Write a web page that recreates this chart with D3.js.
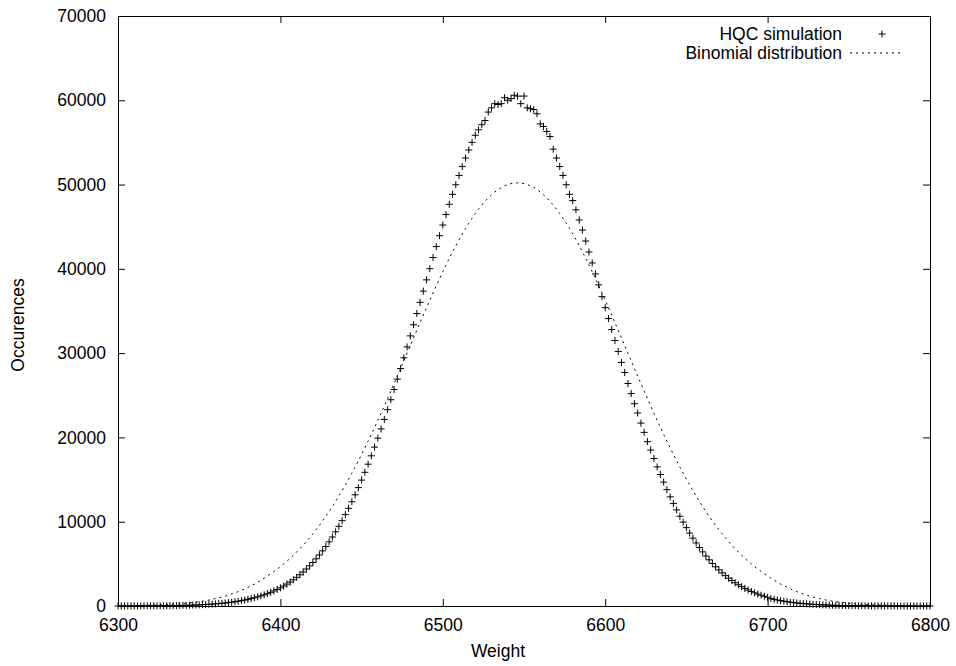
<!DOCTYPE html>
<html>
<head>
  <meta charset="utf-8">
  <script src="https://d3js.org/d3.v7.min.js"></script>
  <style>
    body { margin: 0; background: #fff; }
    text { font-family: "Liberation Sans", Arial, sans-serif; font-size: 17.5px; fill: #000; }
  </style>
</head>
<body>
  <svg id="chart" width="956" height="666"></svg>
  <script>
    // weights (x)
    const weights = [
      6300,6302,6304,6306,6308,6310,6312,6314,6316,6318,6320,6322,6324,6326,6328,6330,6332,6334,6336,6338,
      6340,6342,6344,6346,6348,6350,6352,6354,6356,6358,6360,6362,6364,6366,6368,6370,6372,6374,6376,6378,
      6380,6382,6384,6386,6388,6390,6392,6394,6396,6398,6400,6402,6404,6406,6408,6410,6412,6414,6416,6418,
      6420,6422,6424,6426,6428,6430,6432,6434,6436,6438,6440,6442,6444,6446,6448,6450,6452,6454,6456,6458,
      6460,6462,6464,6466,6468,6470,6472,6474,6476,6478,6480,6482,6484,6486,6488,6490,6492,6494,6496,6498,
      6500,6502,6504,6506,6508,6510,6512,6514,6516,6518,6520,6522,6524,6526,6528,6530,6532,6534,6536,6538,
      6540,6542,6544,6546,6548,6550,6552,6554,6556,6558,6560,6562,6564,6566,6568,6570,6572,6574,6576,6578,
      6580,6582,6584,6586,6588,6590,6592,6594,6596,6598,6600,6602,6604,6606,6608,6610,6612,6614,6616,6618,
      6620,6622,6624,6626,6628,6630,6632,6634,6636,6638,6640,6642,6644,6646,6648,6650,6652,6654,6656,6658,
      6660,6662,6664,6666,6668,6670,6672,6674,6676,6678,6680,6682,6684,6686,6688,6690,6692,6694,6696,6698,
      6700,6702,6704,6706,6708,6710,6712,6714,6716,6718,6720,6722,6724,6726,6728,6730,6732,6734,6736,6738,
      6740,6742,6744,6746,6748,6750,6752,6754,6756,6758,6760,6762,6764,6766,6768,6770,6772,6774,6776,6778,
      6780,6782,6784,6786,6788,6790,6792,6794,6796,6798,6800
    ];

    // HQC simulation (points)
    const hqcCounts = [
      4,4,5,6,7,8,10,11,13,15,18,20,23,27,31,36,41,47,54,62,
      71,81,92,105,120,136,155,175,198,224,253,285,321,361,405,455,509,569,636,709,
      790,879,976,1083,1200,1328,1467,1619,1785,1964,2159,2370,2598,2845,3111,3396,3703,4032,4385,4763,
      5166,5596,6055,6542,7060,7609,8188,8804,9450,10129,10843,11591,12374,13192,14047,14937,15863,16824,17820,18850,
      19912,21008,22134,23290,24473,25682,26918,28174,29450,30743,32050,33370,34697,36030,37364,38696,40023,41340,42645,43932,
      45200,46443,47656,48837,49980,51082,52140,53148,54105,55006,55849,56500,57100,57600,58600,59100,59600,59500,59600,60300,
      60000,60200,60600,60500,59600,60500,59100,59000,58900,58400,57200,56900,56300,55700,54200,53148,52140,51082,49980,48837,
      48100,47000,45800,44600,43300,42000,40700,39400,38100,36700,35400,34100,32800,31500,30200,28900,27700,26400,25200,24000,
      22900,21700,20600,19500,18500,17500,16500,15600,14700,13800,12950,12150,11400,10650,9950,9300,8650,8050,7480,6930,
      6420,5930,5480,5050,4650,4280,3930,3600,3300,3020,2760,2520,2300,2090,1900,1725,1565,1415,1280,1155,
      1040,879,790,709,636,569,509,455,405,361,321,285,253,224,198,175,155,136,120,105,
      92,81,71,62,54,47,41,36,31,27,23,20,18,15,13,11,10,8,7,6,
      5,4,4,3,3,2,2,2,1,1,1
    ];

    // Binomial distribution (dotted line)
    const binomialCounts = [
      24,27,30,34,41,46,52,59,67,80,90,101,113,126,149,166,185,206,229,270,
      300,334,370,409,470,520,575,635,704,805,885,970,1060,1157,1310,1430,1560,1700,1850,2040,
      2215,2400,2600,2813,3075,3310,3560,3820,4096,4377,4673,4985,5313,5658,6019,6398,6794,7208,7642,8094,
      8565,9055,9565,10095,10645,11214,11804,12413,13043,13692,14360,15048,15754,16479,17222,17983,18761,19556,20365,21189,
      22026,22876,23738,24611,25492,26382,27278,28180,29085,29993,30902,31809,32715,33616,34513,35401,36279,37146,37999,38838,
      39660,40463,41246,42006,42743,43453,44136,44790,45413,46003,46559,47081,47565,48012,48421,48789,49116,49401,49644,49843,
      49999,50111,50178,50200,50178,50111,49999,49843,49644,49401,49116,48789,48421,48012,47565,47081,46559,46003,45413,44790,
      44136,43453,42743,42006,41246,40463,39660,38838,37999,37146,36279,35401,34513,33616,32715,31809,30902,29993,29085,28180,
      27278,26382,25492,24611,23738,22876,22026,21189,20365,19556,18761,17983,17222,16479,15754,15048,14360,13692,13043,12413,
      11804,11214,10645,10095,9565,9055,8565,8094,7642,7208,6794,6398,6019,5658,5313,4985,4673,4377,4096,3820,
      3560,3310,3075,2813,2600,2400,2215,2040,1850,1700,1560,1430,1310,1157,1060,970,885,805,704,635,
      575,520,470,409,370,334,300,270,229,206,185,166,149,126,113,101,90,80,67,59,
      52,46,41,34,30,27,24,21,19,16,14
    ];

    const xTicks = [6300, 6400, 6500, 6600, 6700, 6800];
    const yTicks = [0, 10000, 20000, 30000, 40000, 50000, 60000, 70000];

    const seriesNames = ["HQC simulation", "Binomial distribution"];

    const margin = { top: 16, right: 26, bottom: 60, left: 118 };
    const width = 956, height = 666;
    const svg = d3.select("#chart");

    const x = d3.scaleLinear().domain([6300, 6800]).range([margin.left, width - margin.right]);
    const y = d3.scaleLinear().domain([0, 70000]).range([height - margin.bottom, margin.top]);

    // axes with inward ticks, mirrored on top and right
    const gx = svg.append("g")
      .attr("transform", `translate(0,${height - margin.bottom})`)
      .call(d3.axisBottom(x).tickValues(xTicks).tickFormat(d3.format("d")).tickSize(-7).tickPadding(13));
    const gxTop = svg.append("g")
      .attr("transform", `translate(0,${margin.top})`)
      .call(d3.axisTop(x).tickValues(xTicks).tickFormat("").tickSize(-7));
    const gy = svg.append("g")
      .attr("transform", `translate(${margin.left},0)`)
      .call(d3.axisLeft(y).tickValues(yTicks).tickFormat(d3.format("d")).tickSize(-7).tickPadding(12));
    const gyRight = svg.append("g")
      .attr("transform", `translate(${width - margin.right},0)`)
      .call(d3.axisRight(y).tickValues(yTicks).tickFormat("").tickSize(-7));

    [gx, gxTop, gy, gyRight].forEach(g => {
      g.select(".domain").remove();
      g.selectAll("line").attr("stroke", "#000");
      g.selectAll("text").attr("font-size", null).attr("font-family", null).attr("fill", "#000");
    });

    // plot border
    svg.append("rect")
      .attr("x", margin.left + 0.5)
      .attr("y", margin.top + 0.5)
      .attr("width", width - margin.left - margin.right)
      .attr("height", height - margin.top - margin.bottom)
      .attr("fill", "none")
      .attr("stroke", "#000");

    // axis titles
    svg.append("text")
      .attr("x", 498).attr("y", 657)
      .attr("text-anchor", "middle")
      .text("Weight");
    svg.append("text")
      .attr("transform", "translate(24,325) rotate(-90)")
      .attr("text-anchor", "middle")
      .text("Occurences");

    // binomial dotted line
    const line = d3.line()
      .x((d, i) => x(weights[i]))
      .y(d => y(d));
    svg.append("path")
      .datum(binomialCounts)
      .attr("d", line)
      .attr("fill", "none")
      .attr("stroke", "#000")
      .attr("stroke-width", 1)
      .attr("stroke-dasharray", "2,4");

    // HQC points as "+"
    const plus = "M-3.5,0H3.5M0,-3.5V3.5";
    svg.append("g")
      .selectAll("path")
      .data(hqcCounts)
      .join("path")
      .attr("transform", (d, i) => `translate(${x(weights[i])},${y(d)})`)
      .attr("d", plus)
      .attr("stroke", "#000")
      .attr("stroke-width", 1)
      .attr("fill", "none");

    // legend
    const legend = svg.append("g");
    legend.append("text")
      .attr("x", 842).attr("y", 40)
      .attr("text-anchor", "end")
      .text(seriesNames[0]);
    legend.append("path")
      .attr("transform", "translate(882,34)")
      .attr("d", plus)
      .attr("stroke", "#000")
      .attr("fill", "none");
    legend.append("text")
      .attr("x", 842).attr("y", 59)
      .attr("text-anchor", "end")
      .text(seriesNames[1]);
    legend.append("line")
      .attr("x1", 850).attr("x2", 904)
      .attr("y1", 53).attr("y2", 53)
      .attr("stroke", "#000")
      .attr("stroke-dasharray", "2,4");
  </script>
</body>
</html>
